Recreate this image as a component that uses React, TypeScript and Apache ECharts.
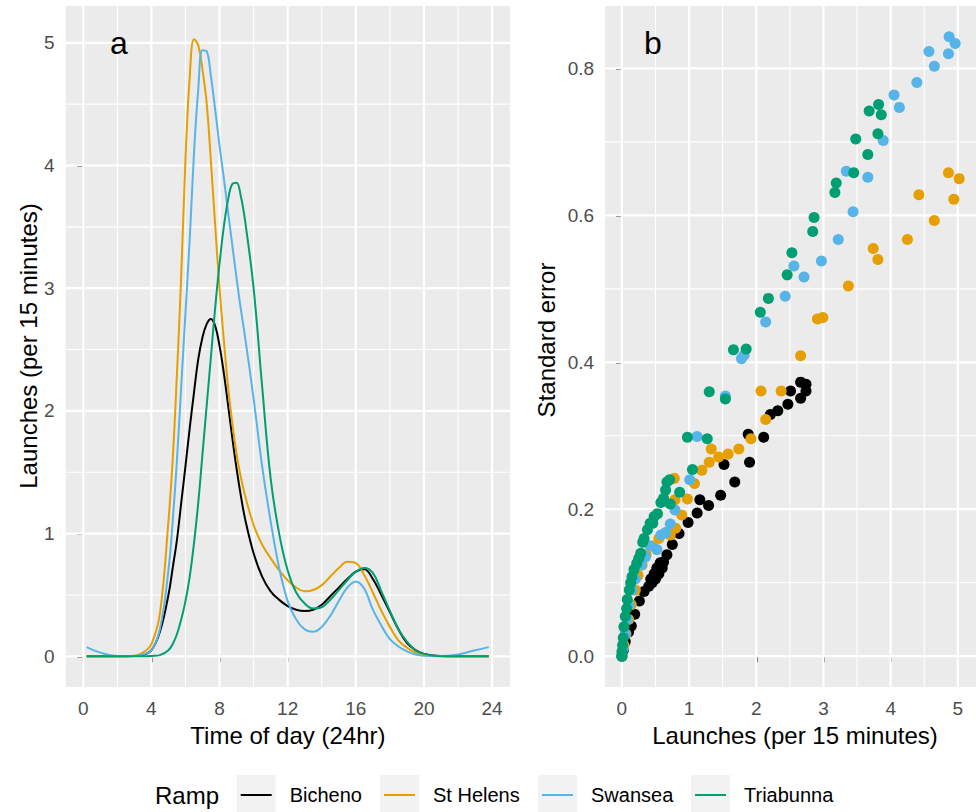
import React, { useEffect, useRef } from 'react';
import * as echarts from 'echarts';

// ---------- data ----------
const ramps = ['Bicheno', 'St Helens', 'Swansea', 'Triabunna'];
const rampColors = ['#000000', '#E69F00', '#56B4E9', '#009E73'];

// Panel a: launches per 15 minutes by time of day
const hours = [0.2, 1, 2, 3, 3.5, 4, 4.5, 5, 5.25, 5.5, 5.75, 6, 6.25, 6.5, 6.75, 7, 7.25, 7.5, 7.75, 8, 8.25, 8.5, 8.75, 9, 9.25, 9.5, 10, 10.5, 11, 11.5, 12, 12.5, 13, 13.5, 14, 14.5, 15, 15.5, 16, 16.5, 17, 17.5, 18, 18.5, 19, 19.5, 20, 21, 22, 23, 23.8];
const bichenoRate = [0, 0, 0, 0.002, 0.01, 0.05, 0.2, 0.5, 0.72, 0.95, 1.25, 1.55, 1.86, 2.15, 2.42, 2.6, 2.71, 2.75, 2.69, 2.53, 2.31, 2.05, 1.78, 1.53, 1.31, 1.12, 0.84, 0.65, 0.53, 0.46, 0.41, 0.38, 0.37, 0.38, 0.42, 0.49, 0.56, 0.63, 0.69, 0.71, 0.63, 0.5, 0.36, 0.22, 0.11, 0.05, 0.02, 0.002, 0, 0, 0];
const stHelensRate = [0, 0, 0, 0.005, 0.03, 0.1, 0.35, 1.1, 1.6, 2.3, 3.1, 4.05, 4.72, 5.03, 4.98, 4.78, 4.5, 4.02, 3.5, 3.0, 2.58, 2.2, 1.9, 1.65, 1.46, 1.31, 1.07, 0.91, 0.8, 0.7, 0.62, 0.56, 0.53, 0.54, 0.58, 0.65, 0.72, 0.77, 0.76, 0.66, 0.52, 0.37, 0.24, 0.13, 0.07, 0.03, 0.01, 0, 0, 0, 0];
const swanseaRate = [0.075, 0.03, 0.003, 0.003, 0.015, 0.05, 0.22, 0.7, 1.1, 1.6, 2.2, 2.8, 3.4, 4.1, 4.62, 4.94, 4.93, 4.72, 4.45, 4.16, 3.9, 3.62, 3.35, 3.08, 2.83, 2.6, 2.1, 1.55, 1.1, 0.72, 0.45, 0.3, 0.22, 0.2, 0.24, 0.33, 0.45, 0.56, 0.61, 0.55, 0.38, 0.25, 0.14, 0.08, 0.04, 0.015, 0.005, 0.002, 0.015, 0.05, 0.075];
const triabunnaRate = [0, 0, 0, 0, 0, 0.003, 0.01, 0.05, 0.1, 0.18, 0.3, 0.45, 0.65, 0.92, 1.25, 1.65, 2.05, 2.45, 2.85, 3.2, 3.5, 3.72, 3.85, 3.86, 3.75, 3.55, 3.0, 2.2, 1.45, 1.0, 0.7, 0.52, 0.43, 0.39, 0.4, 0.46, 0.54, 0.62, 0.69, 0.72, 0.68, 0.53, 0.37, 0.22, 0.12, 0.05, 0.02, 0, 0, 0, 0];

// Panel b: [launches, standard error]
const bichenoSE = [[0, 0], [0.02, 0.008], [0.05, 0.02], [0.1, 0.033], [0.14, 0.041], [0.19, 0.057], [0.26, 0.075], [0.33, 0.088], [0.4, 0.095], [0.43, 0.105], [0.45, 0.1], [0.48, 0.112], [0.5, 0.105], [0.52, 0.12], [0.55, 0.112], [0.57, 0.127], [0.6, 0.12], [0.62, 0.128], [0.67, 0.138], [0.75, 0.152], [0.85, 0.167], [0.985, 0.182], [1.12, 0.195], [1.16, 0.213], [1.29, 0.205], [1.47, 0.219], [1.52, 0.261], [1.68, 0.237], [1.88, 0.302], [1.9, 0.264], [2.11, 0.298], [2.21, 0.329], [2.32, 0.334], [2.47, 0.343], [2.51, 0.361], [2.66, 0.351], [2.66, 0.373], [2.74, 0.37], [2.74, 0.361]];
const stHelensSE = [[0, 0], [0.03, 0.015], [0.06, 0.03], [0.1, 0.05], [0.14, 0.07], [0.2, 0.09], [0.24, 0.11], [0.3, 0.124], [0.36, 0.138], [0.45, 0.15], [0.55, 0.16], [0.65, 0.168], [0.72, 0.165], [0.8, 0.174], [0.89, 0.192], [0.79, 0.213], [0.975, 0.214], [0.78, 0.242], [1.08, 0.235], [1.19, 0.253], [1.3, 0.264], [1.33, 0.282], [1.44, 0.271], [1.58, 0.275], [1.74, 0.282], [1.92, 0.296], [2.14, 0.322], [2.07, 0.361], [2.37, 0.361], [2.66, 0.409], [2.91, 0.459], [2.99, 0.461], [3.37, 0.504], [3.74, 0.555], [3.81, 0.54], [4.25, 0.567], [4.42, 0.628], [4.65, 0.593], [4.86, 0.658], [4.94, 0.622], [5.02, 0.65]];
const swanseaSE = [[0, 0], [0.02, 0.01], [0.05, 0.03], [0.08, 0.05], [0.11, 0.07], [0.15, 0.09], [0.2, 0.105], [0.29, 0.124], [0.35, 0.135], [0.42, 0.15], [0.52, 0.145], [0.58, 0.165], [0.65, 0.168], [0.72, 0.18], [0.79, 0.199], [1.01, 0.24], [1.12, 0.299], [1.54, 0.354], [1.78, 0.405], [1.82, 0.41], [2.14, 0.455], [2.43, 0.49], [2.56, 0.531], [2.71, 0.516], [2.97, 0.538], [3.22, 0.567], [3.34, 0.66], [3.44, 0.605], [3.66, 0.652], [3.89, 0.702], [4.05, 0.764], [4.13, 0.747], [4.39, 0.781], [4.57, 0.823], [4.65, 0.803], [4.86, 0.82], [4.87, 0.843], [4.96, 0.834]];
const triabunnaSE = [[0, 0], [0, 0.006], [0.01, 0.015], [0.02, 0.025], [0.03, 0.04], [0.05, 0.054], [0.07, 0.065], [0.08, 0.077], [0.11, 0.09], [0.13, 0.1], [0.15, 0.108], [0.18, 0.118], [0.22, 0.126], [0.25, 0.133], [0.28, 0.14], [0.31, 0.155], [0.33, 0.16], [0.38, 0.172], [0.42, 0.181], [0.46, 0.181], [0.48, 0.19], [0.53, 0.194], [0.58, 0.209], [0.62, 0.215], [0.65, 0.226], [0.67, 0.237], [0.71, 0.24], [0.72, 0.207], [0.86, 0.223], [0.975, 0.298], [1.05, 0.254], [1.27, 0.296], [1.3, 0.36], [1.54, 0.35], [1.66, 0.417], [1.85, 0.418], [2.06, 0.468], [2.18, 0.487], [2.46, 0.519], [2.53, 0.549], [2.84, 0.578], [2.86, 0.597], [3.17, 0.631], [3.19, 0.644], [3.45, 0.658], [3.48, 0.704], [3.66, 0.683], [3.68, 0.742], [3.81, 0.711], [3.82, 0.751], [3.86, 0.737]];

// Tick labels / grid breaks
const timeTicks = [0, 4, 8, 12, 16, 20, 24];
const timeMinor = [2, 6, 10, 14, 18, 22];
const rateTicks = [0, 1, 2, 3, 4, 5];
const rateMinor = [0.5, 1.5, 2.5, 3.5, 4.5];
const launchTicks = [0, 1, 2, 3, 4, 5];
const launchMinor = [0.5, 1.5, 2.5, 3.5, 4.5];
const seTicks = [0, 0.2, 0.4, 0.6, 0.8];
const seMinor = [0.1, 0.3, 0.5, 0.7];

const panelLabels = ['a', 'b'];
const xTitles = ['Time of day (24hr)', 'Launches (per 15 minutes)'];
const yTitles = ['Launches (per 15 minutes)', 'Standard error'];
const legendTitle = 'Ramp';

// ---------- styling / layout ----------
const FONT = '"Liberation Sans", Arial, Helvetica, sans-serif';
const PANEL_BG = '#EBEBEB';
const TICK_COLOR = '#333333';
const LABEL_COLOR = '#4D4D4D';

const rangeA = { x: [-1.03, 25.05], y: [-0.25, 5.3] };
const rangeB = { x: [-0.25, 5.27], y: [-0.042, 0.885] };

function gridLineSeries(idx: number, range: any, xMajor: number[], xMinor: number[], yMajor: number[], yMinor: number[]) {
  const data: number[][] = [];
  xMinor.forEach((v) => data.push([0, v, 1.1]));
  yMinor.forEach((v) => data.push([1, v, 1.1]));
  xMajor.forEach((v) => data.push([0, v, 2.2]));
  yMajor.forEach((v) => data.push([1, v, 2.2]));
  return {
    type: 'custom',
    xAxisIndex: idx,
    yAxisIndex: idx,
    silent: true,
    z: 1,
    clip: true,
    data,
    renderItem: (_p: any, api: any) => {
      const o = api.value(0);
      const v = api.value(1);
      const w = api.value(2);
      const p1 = o === 0 ? api.coord([v, range.y[0]]) : api.coord([range.x[0], v]);
      const p2 = o === 0 ? api.coord([v, range.y[1]]) : api.coord([range.x[1], v]);
      return {
        type: 'line',
        shape: { x1: p1[0], y1: p1[1], x2: p2[0], y2: p2[1] },
        style: { stroke: '#FFFFFF', lineWidth: w },
      };
    },
  };
}

function axisCommon(ticks: number[], min: number, max: number, gridIndex: number, isY: boolean, fmt?: (v: number) => string) {
  return {
    type: 'value',
    gridIndex,
    min,
    max,
    axisLine: { show: false },
    splitLine: { show: false },
    minorSplitLine: { show: false },
    axisTick: {
      show: true,
      customValues: ticks,
      length: 6,
      lineStyle: { color: TICK_COLOR, width: 2 },
    },
    axisLabel: {
      customValues: ticks,
      color: LABEL_COLOR,
      fontSize: 19,
      fontFamily: FONT,
      margin: isY ? 11 : 12,
      formatter: fmt ? (v: number) => fmt(v) : (v: number) => String(v),
    },
  };
}

const legendLayout = { keyX: [236.7, 380, 538, 691], keyW: 39, keyTop: 775, keyH: 39, textGap: 14, y: 795 };

export default function App() {
  const ref = useRef<HTMLDivElement>(null);

  useEffect(() => {
    if (!ref.current) return;
    const chart = echarts.init(ref.current, undefined, { renderer: 'svg' });

    const rates = [bichenoRate, stHelensRate, swanseaRate, triabunnaRate];
    const ses = [bichenoSE, stHelensSE, swanseaSE, triabunnaSE];

    const lineSeries = ramps.map((name, i) => ({
      name,
      type: 'line',
      xAxisIndex: 0,
      yAxisIndex: 0,
      data: hours.map((h, j) => [h, rates[i][j]]),
      showSymbol: false,
      smooth: 0.4,
      lineStyle: { color: rampColors[i], width: 2 },
      itemStyle: { color: rampColors[i] },
      z: 3,
    }));

    const scatterSeries = ramps.map((name, i) => ({
      name,
      type: 'scatter',
      xAxisIndex: 1,
      yAxisIndex: 1,
      data: ses[i],
      symbolSize: 11,
      itemStyle: { color: rampColors[i], opacity: 1 },
      z: 3 + i,
    }));

    const legendItems: any[] = [];
    ramps.forEach((name, i) => {
      const kx = legendLayout.keyX[i];
      legendItems.push({
        type: 'rect',
        shape: { x: kx, y: legendLayout.keyTop, width: legendLayout.keyW, height: legendLayout.keyH },
        style: { fill: '#F2F2F2' },
      });
      legendItems.push({
        type: 'line',
        shape: { x1: kx + 4, y1: legendLayout.y, x2: kx + legendLayout.keyW - 4, y2: legendLayout.y },
        style: { stroke: rampColors[i], lineWidth: 2 },
      });
      legendItems.push({
        type: 'text',
        x: kx + legendLayout.keyW + legendLayout.textGap,
        y: legendLayout.y,
        style: { text: name, fill: '#000000', font: `20px ${FONT}`, textAlign: 'left', textVerticalAlign: 'middle' },
      });
    });

    const option: any = {
      animation: false,
      backgroundColor: '#FFFFFF',
      grid: [
        { left: 65.7, top: 6, width: 444.3, height: 681, show: true, backgroundColor: PANEL_BG, borderWidth: 0 },
        { left: 605.1, top: 6, width: 379.3, height: 681, show: true, backgroundColor: PANEL_BG, borderWidth: 0 },
      ],
      xAxis: [
        axisCommon(timeTicks, rangeA.x[0], rangeA.x[1], 0, false),
        axisCommon(launchTicks, rangeB.x[0], rangeB.x[1], 1, false),
      ],
      yAxis: [
        axisCommon(rateTicks, rangeA.y[0], rangeA.y[1], 0, true),
        axisCommon(seTicks, rangeB.y[0], rangeB.y[1], 1, true, (v) => v.toFixed(1)),
      ],
      series: [
        gridLineSeries(0, rangeA, timeTicks, timeMinor, rateTicks, rateMinor),
        gridLineSeries(1, rangeB, launchTicks, launchMinor, seTicks, seMinor),
        ...lineSeries,
        ...scatterSeries,
      ],
      graphic: [
        { type: 'text', x: 119, y: 43, style: { text: panelLabels[0], fill: '#000', font: `32px ${FONT}`, textAlign: 'center', textVerticalAlign: 'middle' }, z: 10 },
        { type: 'text', x: 653, y: 43, style: { text: panelLabels[1], fill: '#000', font: `32px ${FONT}`, textAlign: 'center', textVerticalAlign: 'middle' }, z: 10 },
        { type: 'text', x: 287.9, y: 735, style: { text: xTitles[0], fill: '#000', font: `24px ${FONT}`, textAlign: 'center', textVerticalAlign: 'middle' } },
        { type: 'text', x: 795, y: 735, style: { text: xTitles[1], fill: '#000', font: `24px ${FONT}`, textAlign: 'center', textVerticalAlign: 'middle' } },
        { type: 'text', x: 28, y: 346, rotation: Math.PI / 2, style: { text: yTitles[0], fill: '#000', font: `24px ${FONT}`, textAlign: 'center', textVerticalAlign: 'middle' } },
        { type: 'text', x: 546, y: 340, rotation: Math.PI / 2, style: { text: yTitles[1], fill: '#000', font: `24px ${FONT}`, textAlign: 'center', textVerticalAlign: 'middle' } },
        { type: 'text', x: 155, y: 795, style: { text: legendTitle, fill: '#000', font: `24px ${FONT}`, textAlign: 'left', textVerticalAlign: 'middle' } },
        ...legendItems,
      ],
    };

    chart.setOption(option);
    return () => chart.dispose();
  }, []);

  return (
    <div
      ref={ref}
      style={{ position: 'absolute', left: 0, top: 0, width: 976, height: 812, background: '#FFFFFF' }}
    />
  );
}
